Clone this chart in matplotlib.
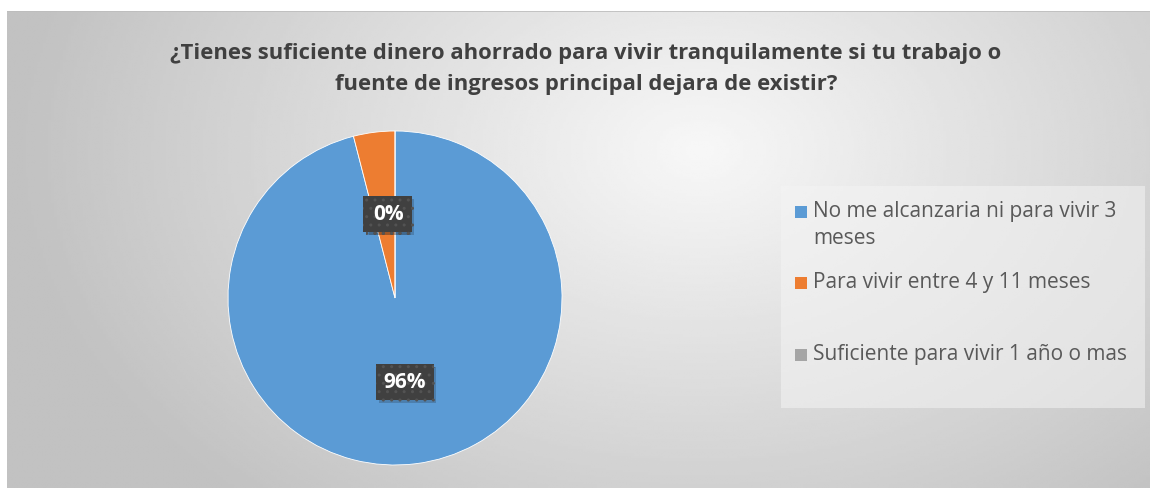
import numpy as np
import matplotlib
matplotlib.use("Agg")
import matplotlib.pyplot as plt
from matplotlib.patches import Rectangle
import matplotlib.patheffects as pe

# data
labels = ["No me alcanzaria ni para vivir 3\nmeses",
          "Para vivir entre 4 y 11 meses",
          "Suficiente para vivir 1 año o mas"]
shares = [96, 4, 0]
colors = ["#5B9BD5", "#ED7D31", "#A5A5A5"]
title = ("¿Tienes suficiente dinero ahorrado para vivir tranquilamente si tu trabajo o\n"
         "fuente de ingresos principal dejara de existir?")

W, H = 1150, 488
fig = plt.figure(figsize=(W / 100, H / 100), dpi=100)
fig.patch.set_facecolor("white")

def fx(x):
    return x / W

def fy(y):
    return 1 - y / H

# chart area background (radial grey gradient)
bg = fig.add_axes([fx(7), 0, fx(W - 7), (H - 11) / H])
xx, yy = np.meshgrid(np.linspace(7, W, 400), np.linspace(11, H, 200))
d = np.sqrt(((xx - 700) / 650) ** 2 + ((yy - 150) / 450) ** 2)
shade = np.clip(0.97 - 0.2 * d, 0.76, 1)
bg.imshow(shade, cmap="gray", vmin=0, vmax=1, aspect="auto",
          extent=[7, W, H, 11], interpolation="bilinear")
bg.set_xlim(7, W)
bg.set_ylim(H, 11)
bg.axhline(11.5, color="#bdbdbd", lw=1.2)
bg.axis("off")

fig.text(fx(586), fy(69), title, ha="center", va="center", fontsize=15.8,
         fontweight="bold", color="#404040", family="Open Sans", linespacing=1.6)

# pie
cx, cy, r = 395, 298, 167
ax = fig.add_axes([fx(cx - r), fy(cy + r), 2 * r / W, 2 * r / H])
ax.pie(shares, colors=colors, startangle=90, counterclock=False,
       wedgeprops=dict(linewidth=0.6, edgecolor="white"))
ax.set_aspect("equal")
ax.set_xlim(-1, 1)
ax.set_ylim(-1, 1)

# data labels (dark boxes)
lab_pos = [(405, 382), (386, 214), (389, 214)]
for (px, py), v in zip(lab_pos, shares):
    t = fig.text(fx(px), fy(py), f"{v}%", ha="center", va="center",
                 fontsize=15, fontweight="bold", color="white", family="Open Sans",
                 bbox=dict(boxstyle="square,pad=0.35", facecolor="#404040",
                           edgecolor="#535353", hatch="..", linewidth=0))
    t.get_bbox_patch().set_path_effects(
        [pe.SimplePatchShadow(offset=(2, -2), alpha=0.2), pe.Normal()])

# legend
leg = Rectangle((fx(781), fy(408)), fx(1145 - 781), (408 - 186) / H,
                transform=fig.transFigure, facecolor="#f4f4f4", alpha=0.55,
                edgecolor="none")
fig.add_artist(leg)
leg_y = [212, 283, 355]
for lab, c, y in zip(labels, colors, leg_y):
    fig.add_artist(Rectangle((fx(795), fy(y + 6)), 12 / W, 12 / H,
                             transform=fig.transFigure, facecolor=c,
                             edgecolor="none"))
    fig.text(fx(813), fy(y - 11), lab, ha="left", va="top", fontsize=15,
             color="#595959", family="Open Sans", linespacing=1.4)

fig.savefig("out.png", dpi=100)
